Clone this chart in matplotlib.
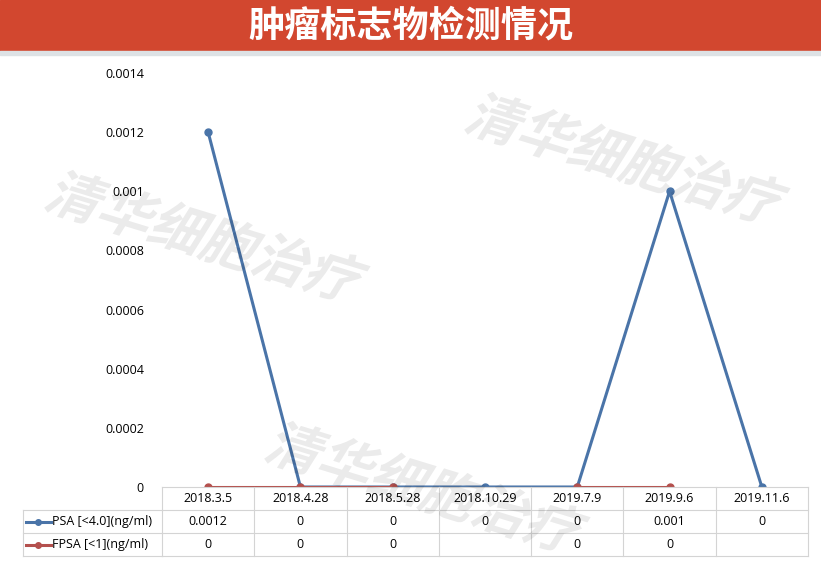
import numpy as np
import matplotlib.pyplot as plt
from matplotlib.lines import Line2D
from matplotlib.patches import Rectangle, PathPatch
from matplotlib.textpath import TextPath
from matplotlib.font_manager import FontProperties
from matplotlib.transforms import Affine2D, blended_transform_factory

plt.rcParams['font.family'] = ['Open Sans', 'Noto Sans CJK SC', 'DejaVu Sans']

title = '肿瘤标志物检测情况'
watermark = '清华细胞治疗'
dates = ['2018.3.5', '2018.4.28', '2018.5.28', '2018.10.29', '2019.7.9', '2019.9.6', '2019.11.6']
psa = [0.0012, 0, 0, 0, 0, 0.001, 0]
fpsa = [0, 0, 0, None, 0, 0, None]
series_names = ['PSA [<4.0](ng/ml)', 'FPSA [<1](ng/ml)']
yticks = [0, 0.0002, 0.0004, 0.0006, 0.0008, 0.001, 0.0012, 0.0014]

blue = '#4A74A8'
red = '#B4504D'
grid_c = '#D4D4D4'

W, H = 821, 563
fig = plt.figure(figsize=(W / 100, H / 100), dpi=100)


def fx(x):
    return x / W


def fy(y):
    return 1 - y / H


# title banner
fig.add_artist(Rectangle((0, fy(50)), 1, 50 / H, transform=fig.transFigure,
                         color='#D2472F', zorder=0))
fig.add_artist(Rectangle((0, fy(55)), 1, 4 / H, transform=fig.transFigure,
                         color='#DDE2E5', zorder=0))
fig.text(0.5, fy(26), title, color='white', fontsize=26, ha='center', va='center',
         family=['Noto Sans CJK SC'], fontweight='bold')

ax = fig.add_axes([fx(162), fy(487), fx(808 - 162), (487 - 73) / H])
x = np.arange(len(dates))
ax.plot(x, psa, color=blue, lw=2.2, marker='o', ms=5, zorder=3)
ax.plot(x, [np.nan if v is None else v for v in fpsa], color=red, lw=2.2,
        marker='o', ms=5, zorder=4)
ax.set_xlim(-0.5, len(dates) - 0.5)
ax.set_ylim(0, 0.0014)
ax.set_yticks(yticks)
ax.set_yticklabels([f'{v:g}' for v in yticks], fontsize=9)
ax.set_xticks([])
ax.tick_params(axis='y', length=0, pad=13)
for s in ax.spines.values():
    s.set_visible(False)
ax.patch.set_alpha(0)

# data table under the axis
tr = blended_transform_factory(ax.transData, fig.transFigure)
rows_y = [487, 510, 533, 556]
n = len(dates)
left = -0.5
right = n - 0.5
fig.add_artist(Line2D([left, right], [fy(rows_y[0])] * 2, transform=tr, color=grid_c, lw=0.8))
for ry in rows_y[1:]:
    fig.add_artist(Line2D([fx(23), fx(162)], [fy(ry)] * 2, transform=fig.transFigure,
                          color=grid_c, lw=0.8))
    fig.add_artist(Line2D([left, right], [fy(ry)] * 2, transform=tr, color=grid_c, lw=0.8))
for i in range(n + 1):
    fig.add_artist(Line2D([i - 0.5] * 2, [fy(rows_y[0]), fy(rows_y[-1])], transform=tr,
                          color=grid_c, lw=0.8))
fig.add_artist(Line2D([fx(23)] * 2, [fy(rows_y[1]), fy(rows_y[-1])], transform=fig.transFigure,
                      color=grid_c, lw=0.8))

for i, d in enumerate(dates):
    fig.text(i, fy((rows_y[0] + rows_y[1]) / 2), d, transform=tr, ha='center', va='center',
             fontsize=9)
for r, (vals, name, col) in enumerate(zip([psa, fpsa], series_names, [blue, red])):
    yc = fy((rows_y[r + 1] + rows_y[r + 2]) / 2)
    for i, v in enumerate(vals):
        if v is not None:
            fig.text(i, yc, f'{v:g}', transform=tr, ha='center', va='center', fontsize=9)
    fig.add_artist(Line2D([fx(26), fx(51)], [yc, yc], transform=fig.transFigure, color=col,
                          lw=2.2))
    fig.add_artist(Line2D([fx(38)], [yc], transform=fig.transFigure, color=col, marker='o',
                          ms=4))
    fig.text(fx(52), yc, name, ha='left', va='center', fontsize=9)

# watermarks
fp = FontProperties(family='Noto Sans CJK SC', weight='black')
for cx, cy in [(207, 236), (627, 158), (427, 487)]:
    tp = TextPath((0, 0), watermark, size=54, prop=fp)
    bb = tp.get_extents()
    t = (Affine2D().translate(-bb.width / 2 - bb.x0, -bb.height / 2 - bb.y0)
         .skew_deg(15, 0).rotate_deg(-17).translate(cx, H - cy)
         .scale(1 / W, 1 / H))
    fig.add_artist(PathPatch(t.transform_path(tp), transform=fig.transFigure,
                             facecolor='black', edgecolor='none', alpha=0.08, zorder=10))

fig.savefig('out.png', dpi=100)
